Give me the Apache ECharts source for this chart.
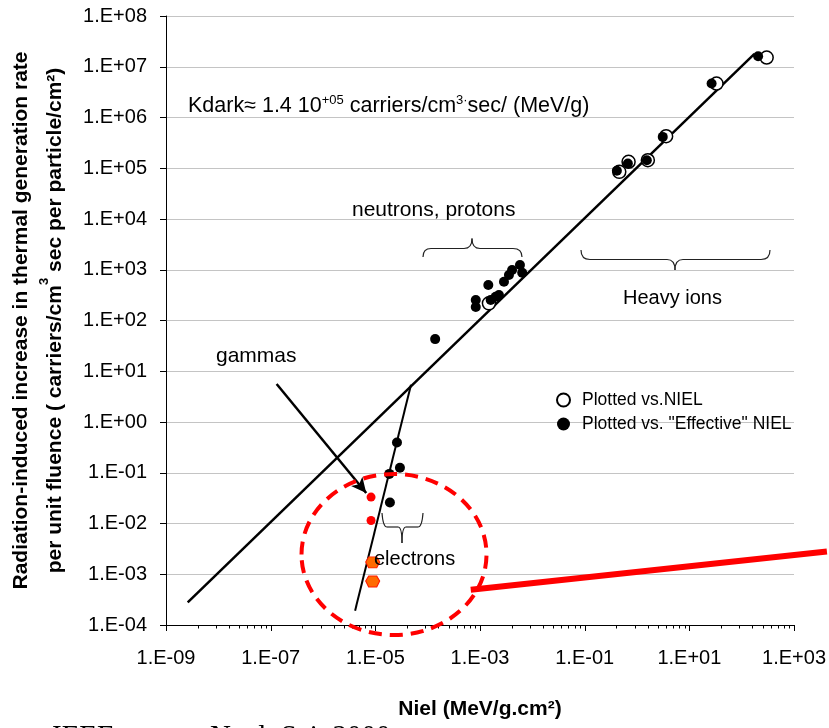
<!DOCTYPE html>
<html><head><meta charset="utf-8">
<script src="https://cdn.jsdelivr.net/npm/echarts@6/dist/echarts.min.js"></script>
<style>html,body{margin:0;padding:0;background:#fff}#c{width:829px;height:728px}</style>
</head><body><div id="c"></div>
<script>
const FONT = "'Liberation Sans', Arial, Helvetica, sans-serif";
const SERIF = "'Liberation Serif', 'Times New Roman', serif";

// axis extents in decades (log10)
const xExpRange = [-9, 3];
const yExpRange = [-4, 8];
const xTickExps = [-9, -7, -5, -3, -1, 1, 3];
const xTickLabels = ['1.E-09', '1.E-07', '1.E-05', '1.E-03', '1.E-01', '1.E+01', '1.E+03'];
const yTickExps = [-4, -3, -2, -1, 0, 1, 2, 3, 4, 5, 6, 7, 8];
const yTickLabels = ['1.E-04', '1.E-03', '1.E-02', '1.E-01', '1.E+00', '1.E+01', '1.E+02',
  '1.E+03', '1.E+04', '1.E+05', '1.E+06', '1.E+07', '1.E+08'];

// [NIEL (MeV/g.cm2), increase in generation rate]
const nielPts = [[300, 1.52e7], [33, 4.67e6], [3.6, 4.28e5], [1.61, 1.44e5], [0.69, 1.34e5],
  [0.458, 8.5e4], [1.48e-3, 218]];
const effNielPts = [[206, 1.61e7], [26.6, 4.67e6], [3.1, 4.15e5], [1.54, 1.44e5], [0.668, 1.24e5],
  [0.412, 8.9e4],
  [8.3e-4, 254], [8.3e-4, 185], [1.6e-3, 254], [1.44e-3, 500], [1.99e-3, 294], [2.3e-3, 318],
  [2.87e-3, 580], [3.57e-3, 787], [4.1e-3, 987], [5.8e-3, 1240], [6.4e-3, 873], [1.39e-4, 43],
  [2.59e-5, 0.393], [2.95e-5, 0.125], [1.85e-5, 0.095], [1.9e-5, 0.0259]];
const gammaPts = [[8.28e-6, 0.0331], [8.28e-6, 0.01145]];
const orangePts = [[8.9e-6, 1.71e-3], [8.9e-6, 7.2e-4]];
const fitLine = [[2.6e-9, 2.8e-4], [175, 1.8e7]];
const electronLine = [[4.1e-6, 1.9e-4], [4.8e-5, 5.4]];
const redLine = [[6.65e-4, 4.95e-4], [4250, 2.81e-3]];
const gammaArrow = [[1.3e-7, 5.6], [6.7e-6, 0.040]];

const L = Math.log10;
const toXY = p => [L(p[0]), L(p[1])];

// x-axis tick marks: majors every 2 decades, minors at k^2 inside each interval
const xTicks = [];
xTickExps.forEach((e, i) => {
  xTicks.push([e, 6]);
  if (i < xTickExps.length - 1) {
    for (let k = 2; k <= 9; k++) xTicks.push([e + 2 * L(k), 3.5]);
  }
});

const chart = echarts.init(document.getElementById('c'), null, { renderer: 'canvas' });
const NAME_NIEL = 'Plotted vs.NIEL';
const NAME_EFF = 'Plotted vs. "Effective" NIEL';

function bez(x1, y1, cx, cy, x2, y2) {
  return { type: 'bezierCurve', shape: { x1, y1, cpx1: cx, cpy1: cy, x2, y2 },
    style: { stroke: '#222', lineWidth: 1.2, fill: null }, z: 50 };
}
function seg(x1, y1, x2, y2) {
  return { type: 'line', shape: { x1, y1, x2, y2 }, style: { stroke: '#222', lineWidth: 1.2 }, z: 50 };
}
function txt(x, y, s, size) {
  return { type: 'text', x, y, z: 60,
    style: { text: s, fontSize: size, fontFamily: FONT, fill: '#000', align: 'left', verticalAlign: 'middle' } };
}

const option = {
  animation: false,
  backgroundColor: '#fff',
  grid: { left: 166, right: 33, top: 16, bottom: 103 },
  legend: {
    data: [NAME_NIEL, NAME_EFF], orient: 'vertical', left: 551, top: 386,
    itemWidth: 27, itemHeight: 13, itemGap: 6,
    textStyle: { fontSize: 17.5, fontFamily: FONT, color: '#000' }
  },
  xAxis: {
    type: 'value', min: xExpRange[0], max: xExpRange[1], interval: 1,
    axisLine: { show: true, onZero: false, lineStyle: { color: '#000', width: 1 } },
    axisTick: { show: false },
    splitLine: { show: false },
    axisLabel: {
      margin: 23, fontSize: 20, fontFamily: FONT, color: '#000',
      formatter: v => { const i = xTickExps.indexOf(Math.round(v)); return i >= 0 ? xTickLabels[i] : ''; }
    },
    name: 'Niel (MeV/g.cm²)', nameLocation: 'middle', nameGap: 74,
    nameTextStyle: { fontSize: 21, fontWeight: 'bold', fontFamily: FONT, color: '#000' }
  },
  yAxis: {
    type: 'value', min: yExpRange[0], max: yExpRange[1], interval: 1,
    axisLine: { show: true, onZero: false, lineStyle: { color: '#000', width: 1 } },
    axisTick: { show: true, inside: false, length: 6, lineStyle: { color: '#000' } },
    splitLine: { show: true, lineStyle: { color: '#c4c4c4', width: 1 } },
    axisLabel: {
      margin: 19, fontSize: 20, fontFamily: FONT, color: '#000',
      formatter: v => { const i = yTickExps.indexOf(Math.round(v)); return i >= 0 ? yTickLabels[i] : ''; }
    },
    name: '{b|Radiation-induced increase in thermal generation rate}\n{b|per unit fluence ( carriers/cm}{s|3}{b| sec per particle/cm²)}',
    nameLocation: 'middle', nameRotate: 90, nameGap: 94,
    nameTextStyle: {
      rich: {
        b: { fontSize: 21, fontWeight: 'bold', fontFamily: FONT, color: '#000', lineHeight: 34 },
        s: { fontSize: 13, fontWeight: 'bold', fontFamily: FONT, color: '#000', lineHeight: 14, verticalAlign: 'top' }
      }
    }
  },
  series: [
    { type: 'custom', silent: true, clip: false, z: 10,
      data: xTicks,
      renderItem: (params, api) => {
        const p = api.coord([api.value(0), yExpRange[0]]);
        const x = Math.round(p[0]) + 0.5;
        return { type: 'line', shape: { x1: x, y1: p[1], x2: x, y2: p[1] + api.value(1) },
          style: { stroke: '#000', lineWidth: 1 } };
      } },
    { type: 'line', data: fitLine.map(toXY), symbol: 'none', silent: true, z: 3,
      lineStyle: { color: '#000', width: 2.5 } },
    { type: 'line', data: electronLine.map(toXY), symbol: 'none', silent: true, z: 3,
      lineStyle: { color: '#000', width: 2 } },
    { type: 'custom', silent: true, clip: false, z: 3,
      data: [redLine.map(toXY).flat()],
      renderItem: (params, api) => {
        const a = api.coord([api.value(0), api.value(1)]);
        const b = api.coord([api.value(2), api.value(3)]);
        return { type: 'line', shape: { x1: a[0], y1: a[1], x2: b[0], y2: b[1] },
          style: { stroke: '#ff0000', lineWidth: 6 } };
      } },
    { type: 'line', data: [], silent: true, z: 3,
      markLine: { silent: true, symbol: ['none', 'arrow'], symbolSize: [11, 15], label: { show: false },
        lineStyle: { color: '#000', width: 2.5, type: 'solid' },
        data: [[{ coord: toXY(gammaArrow[0]) }, { coord: toXY(gammaArrow[1]) }]] } },
    { name: NAME_NIEL, type: 'scatter', data: nielPts.map(toXY), symbol: 'circle', symbolSize: 13, z: 4,
      itemStyle: { color: '#fff', borderColor: '#000', borderWidth: 1.5, opacity: 1 } },
    { name: NAME_EFF, type: 'scatter', data: effNielPts.map(toXY), symbol: 'circle', symbolSize: 10, z: 5,
      itemStyle: { color: '#000', opacity: 1 } },
    { type: 'scatter', data: gammaPts.map(toXY), symbol: 'circle', symbolSize: 9, z: 5,
      itemStyle: { color: '#ff0000', opacity: 1 } },
    { type: 'scatter', data: orangePts.map(toXY), z: 5,
      symbol: 'path://M3,0 L11,0 L14,5 L11,11 L3,11 L0,5 Z', symbolSize: [14, 11],
      itemStyle: { color: '#ff6a00', borderColor: '#ff1a00', borderWidth: 1, opacity: 1 } }
  ],
  graphic: [
    { type: 'text', x: 188, y: 106, z: 60,
      style: {
        text: '{m|Kdark≈ 1.4 10}{s|+05}{m| carriers/cm}{s|3·}{m|sec/ (MeV/g)}',
        align: 'left', verticalAlign: 'middle',
        rich: {
          m: { fontSize: 21.5, fontFamily: FONT, fill: '#000', lineHeight: 24 },
          s: { fontSize: 13, fontFamily: FONT, fill: '#000', lineHeight: 13, verticalAlign: 'top' }
        }
      } },
    txt(352, 210, 'neutrons, protons', 21),
    txt(623, 298, 'Heavy ions', 20),
    txt(216, 356, 'gammas', 21),
    txt(374, 559, 'electrons', 20),
    // neutrons / protons brace
    bez(423, 257, 423, 248.5, 431, 248.5), seg(431, 248.5, 464, 248.5),
    bez(464, 248.5, 472, 248.5, 472, 238.5), bez(472, 238.5, 472, 248.5, 480, 248.5),
    seg(480, 248.5, 513, 248.5), bez(513, 248.5, 522, 248.5, 522, 257),
    // heavy ions brace
    bez(581, 250, 581, 259.5, 590, 259.5), seg(590, 259.5, 667, 259.5),
    bez(667, 259.5, 675, 259.5, 675, 270), bez(675, 270, 675, 259.5, 683, 259.5),
    seg(683, 259.5, 761, 259.5), bez(761, 259.5, 770, 259.5, 770, 250),
    // electrons brace
    bez(382, 513, 383, 527, 387, 527), seg(387, 527, 398, 527),
    bez(398, 527, 402, 527, 402, 543), bez(402, 543, 402, 527, 406, 527),
    seg(406, 527, 418, 527), bez(418, 527, 422, 527, 423, 513),
    // red dashed ellipse
    { type: 'ellipse', z: 100, shape: { cx: 394, cy: 554.5, rx: 92.5, ry: 80.5 },
      style: { fill: null, stroke: '#ff0000', lineWidth: 4, lineDash: [13, 8] } },
    // citation (cut off at bottom)
    { type: 'text', x: 52, y: 723, z: 60,
      style: { text: 'IEEE', fontSize: 29, fontFamily: SERIF, fill: '#000', verticalAlign: 'top' } },
    { type: 'text', x: 210, y: 723, z: 60,
      style: { text: 'Nucl. Sci. 2000', fontSize: 29, fontFamily: SERIF, fill: '#000', verticalAlign: 'top' } }
  ]
};
chart.setOption(option);
</script>
</body></html>
